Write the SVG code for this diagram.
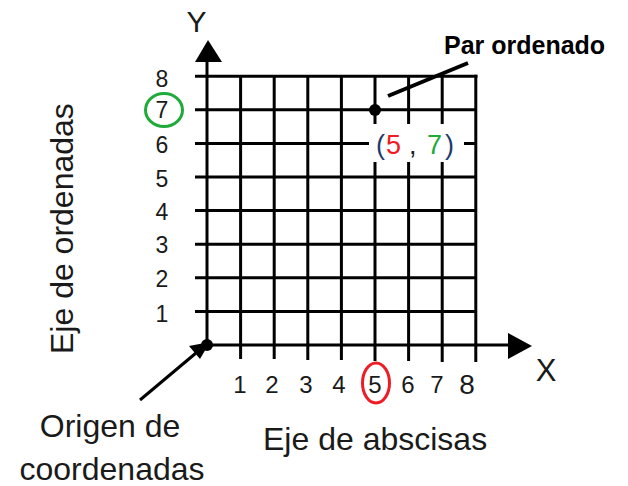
<svg xmlns="http://www.w3.org/2000/svg" width="628" height="486" viewBox="0 0 628 486">
<style>
text { font-family: "Liberation Sans", Arial, sans-serif; fill: #1a1a1a; }
.grid line { stroke: #000; stroke-width: 3; }
.num { font-size: 23px; text-anchor: middle; }
.xnum { font-size: 24px; text-anchor: middle; }
.big { font-size: 32px; }
.axis { font-size: 30px; text-anchor: middle; }
.pair { font-size: 27px; }
</style>
<rect width="628" height="486" fill="#fff"/>

<g id="grid" class="grid">
<line x1="195" y1="311.4" x2="476" y2="311.4"/>
<line x1="195" y1="277.8" x2="476" y2="277.8"/>
<line x1="195" y1="244.2" x2="476" y2="244.2"/>
<line x1="195" y1="210.6" x2="476" y2="210.6"/>
<line x1="195" y1="177" x2="476" y2="177"/>
<line x1="195" y1="143.4" x2="476" y2="143.4"/>
<line x1="195" y1="109.8" x2="476" y2="109.8"/>
<line x1="195" y1="76.2" x2="477.5" y2="76.2"/>
<line x1="240.6" y1="76.2" x2="240.6" y2="359"/>
<line x1="274.2" y1="76.2" x2="274.2" y2="359"/>
<line x1="307.8" y1="76.2" x2="307.8" y2="360"/>
<line x1="341.4" y1="76.2" x2="341.4" y2="360"/>
<line x1="375" y1="76.2" x2="375" y2="361"/>
<line x1="408.6" y1="76.2" x2="408.6" y2="361"/>
<line x1="442.2" y1="76.2" x2="442.2" y2="362"/>
<line x1="475.8" y1="74.7" x2="475.8" y2="362"/>
</g>

<g id="axes">
<line x1="207" y1="346" x2="207" y2="60" stroke="#000" stroke-width="3"/>
<polygon points="208,40 195,62 222,62" fill="#000"/>
<line x1="207" y1="345" x2="510" y2="345" stroke="#000" stroke-width="3"/>
<polygon points="532,346 508,333 508,359" fill="#000"/>
<text class="axis" x="196.5" y="32">Y</text>
<text class="axis" x="546" y="381" style="font-size:31px">X</text>
</g>

<g id="y-labels">
<text class="num" x="162" y="87">8</text>
<text class="num" x="162" y="118">7</text>
<text class="num" x="162" y="153">6</text>
<text class="num" x="162" y="187">5</text>
<text class="num" x="162" y="220">4</text>
<text class="num" x="162" y="253">3</text>
<text class="num" x="162" y="287">2</text>
<text class="num" x="162" y="322">1</text>
<ellipse cx="164" cy="110" rx="18.5" ry="16.5" fill="none" stroke="#1faa3a" stroke-width="3"/>
</g>

<g id="x-labels">
<text class="xnum" x="240" y="393">1</text>
<text class="xnum" x="272" y="393">2</text>
<text class="xnum" x="306" y="393">3</text>
<text class="xnum" x="339" y="393">4</text>
<text class="xnum" x="375" y="393">5</text>
<text class="xnum" x="408" y="393">6</text>
<text class="xnum" x="437" y="393">7</text>
<text class="xnum" x="467" y="394" style="font-size:28px">8</text>
<ellipse cx="376" cy="383" rx="13.5" ry="20" fill="none" stroke="#ee1c24" stroke-width="3"/>
</g>

<g id="ordered-pair">
<rect x="369" y="124" width="95" height="38" fill="#fff"/>
<circle cx="375" cy="110" r="6" fill="#000"/>
<text class="pair" x="376" y="154" style="fill:#1f3a6e">(</text>
<text class="pair" x="386" y="154" style="fill:#ee1c24">5</text>
<text class="pair" x="409" y="154">,</text>
<text class="pair" x="427" y="154" style="fill:#1faa3a">7</text>
<text class="pair" x="445" y="154" style="fill:#1f3a6e">)</text>
</g>

<g id="par-ordenado">
<text x="444" y="54" style="font-size:25px;font-weight:bold;fill:#000">Par ordenado</text>
</g>

<g id="origin">
<circle cx="207" cy="345" r="6" fill="#000"/>
<text class="big" x="110" y="437" text-anchor="middle">Origen de</text>
<text class="big" x="112" y="480" text-anchor="middle">coordenadas</text>
</g>

<g id="axis-titles">
<text class="big" transform="translate(73,354) rotate(-90)">Eje de ordenadas</text>
<text class="big" x="263" y="450">Eje de abscisas</text>
</g>

<g id="connectors">
<line x1="140" y1="400" x2="196" y2="353" stroke="#000" stroke-width="3"/>
<polygon points="210,342 200,359 189,346" fill="#000"/>
<line x1="388" y1="96" x2="468" y2="63" stroke="#000" stroke-width="4"/>
</g>
</svg>
